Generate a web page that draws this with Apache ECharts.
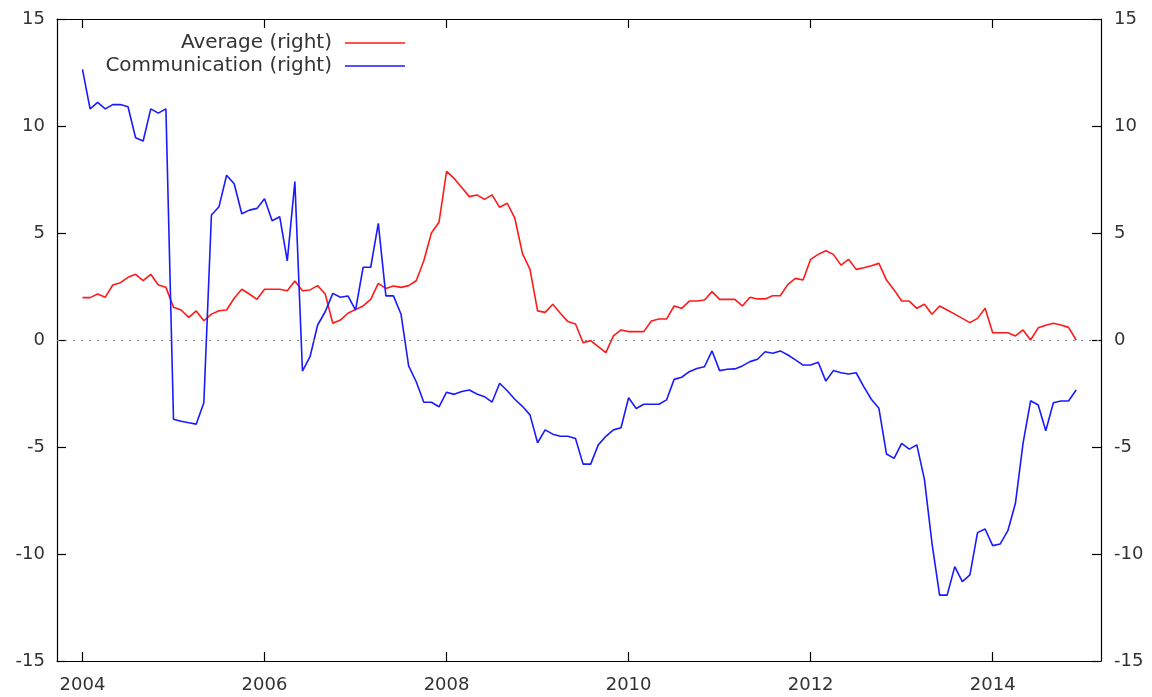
<!DOCTYPE html>
<html>
<head>
<meta charset="utf-8">
<title>Average vs Communication</title>
<script src="https://cdn.jsdelivr.net/npm/echarts@6/dist/echarts.min.js"></script>
<style>
  html, body { margin: 0; padding: 0; background: #fff; }
  #chart { width: 1152px; height: 697px; }
</style>
</head>
<body>
<div id="chart"></div>
<script>
// monthly observations, Jan 2004 .. Dec 2014
const startYear = 2004
const yearTicks = [2004, 2006, 2008, 2010, 2012, 2014]

const average = [
  1.98, 1.98, 2.15, 2.0, 2.57, 2.68, 2.93, 3.07, 2.77, 3.07, 2.57, 2.46,
  1.53, 1.4, 1.06, 1.36, 0.9, 1.21, 1.37, 1.4, 1.95, 2.37, 2.15, 1.9,
  2.37, 2.37, 2.37, 2.3, 2.76, 2.3, 2.34, 2.54, 2.15, 0.78, 0.93, 1.25,
  1.43, 1.59, 1.9, 2.65, 2.41, 2.52, 2.46, 2.54, 2.77, 3.7, 5.0, 5.5,
  7.88, 7.55, 7.13, 6.7, 6.78, 6.57, 6.78, 6.2, 6.39, 5.69, 4.05, 3.3,
  1.36, 1.29, 1.67, 1.25, 0.86, 0.75, -0.13, -0.03, -0.31, -0.59, 0.19, 0.47,
  0.39, 0.39, 0.39, 0.89, 0.98, 0.98, 1.59, 1.48, 1.82, 1.82, 1.87, 2.26,
  1.9, 1.9, 1.9, 1.59, 2.0, 1.92, 1.92, 2.07, 2.07, 2.6, 2.88, 2.8,
  3.77, 4.0, 4.17, 4.0, 3.5, 3.77, 3.3, 3.38, 3.47, 3.58, 2.8, 2.34,
  1.82, 1.82, 1.48, 1.67, 1.2, 1.59, 1.4, 1.21, 1.01, 0.81, 1.01, 1.48,
  0.34, 0.34, 0.34, 0.19, 0.47, 0.0, 0.57, 0.69, 0.78, 0.7, 0.59, 0.0
]

const communication = [
  12.65, 10.8, 11.1, 10.8, 11.0, 11.0, 10.9, 9.45, 9.3, 10.8, 10.6, 10.8,
  -3.7, -3.8, -3.87, -3.93, -2.93, 5.84, 6.23, 7.7, 7.3, 5.9, 6.07, 6.15,
  6.6, 5.57, 5.76, 3.7, 7.4, -1.45, -0.78, 0.7, 1.32, 2.18, 2.0, 2.06,
  1.4, 3.4, 3.4, 5.45, 2.06, 2.06, 1.2, -1.21, -1.95, -2.91, -2.91, -3.12,
  -2.44, -2.54, -2.41, -2.34, -2.52, -2.65, -2.9, -2.02, -2.37, -2.77, -3.1, -3.5,
  -4.8, -4.2, -4.4, -4.5, -4.5, -4.6, -5.8, -5.8, -4.9, -4.5, -4.2, -4.1,
  -2.7, -3.2, -3.0, -3.0, -3.0, -2.8, -1.84, -1.74, -1.48, -1.33, -1.25, -0.51,
  -1.43, -1.37, -1.35, -1.21, -1.01, -0.9, -0.55, -0.62, -0.51, -0.7, -0.93, -1.17,
  -1.17, -1.04, -1.92, -1.43, -1.53, -1.59, -1.53, -2.18, -2.77, -3.19, -5.33, -5.53,
  -4.83, -5.1, -4.9, -6.51, -9.5, -11.92, -11.92, -10.59, -11.29, -10.98, -9.0, -8.83,
  -9.61, -9.53, -8.91, -7.63, -4.83, -2.84, -3.04, -4.24, -2.93, -2.85, -2.85, -2.34
]

const toPoints = (values) => values.map((v, i) => [startYear + i / 12, v])

const font = 'DejaVu Sans'
const textColor = '#333'

const yAxisBase = {
  type: 'value',
  min: -15,
  max: 15,
  interval: 5,
  axisLine: { show: true, lineStyle: { color: '#000', width: 1.2 } },
  axisTick: { show: true, inside: true, length: 9, lineStyle: { color: '#000', width: 1.2 } },
  splitLine: { show: false },
  axisLabel: { fontFamily: font, fontSize: 18, color: textColor, margin: 12 }
}

const xAxisBase = {
  type: 'value',
  min: 2003.72,
  max: 2015.19,
  axisLine: { show: true, onZero: false, lineStyle: { color: '#000', width: 1.2 } },
  axisTick: { show: true, inside: true, length: 9, customValues: yearTicks, lineStyle: { color: '#000', width: 1.2 } },
  splitLine: { show: false }
}

const legendBase = {
  right: 742,
  align: 'right',
  icon: 'rect',
  itemWidth: 60,
  itemHeight: 1.6,
  textStyle: { fontFamily: font, fontSize: 20, lineHeight: 22, color: textColor, padding: [0, 8, 0, 0] }
}

const chart = echarts.init(document.getElementById('chart'))
chart.setOption({
  animation: false,
  backgroundColor: '#fff',
  grid: { left: 57, right: 51, top: 19, bottom: 36 },
  legend: [
    { ...legendBase, data: ['Average (right)'], top: 27 },
    { ...legendBase, data: ['Communication (right)'], top: 50 }
  ],
  xAxis: [
    {
      ...xAxisBase,
      position: 'bottom',
      axisLabel: {
        customValues: yearTicks,
        formatter: (v) => String(v),
        fontFamily: font,
        fontSize: 18,
        color: textColor,
        margin: 15
      }
    },
    {
      ...xAxisBase,
      position: 'top',
      axisLabel: { show: false }
    }
  ],
  yAxis: [
    { ...yAxisBase, position: 'left' },
    { ...yAxisBase, position: 'right', axisLabel: { ...yAxisBase.axisLabel, margin: 13 } }
  ],
  series: [
    {
      name: 'Average (right)',
      type: 'line',
      data: toPoints(average),
      showSymbol: false,
      symbol: 'none',
      color: '#ff1a1a',
      lineStyle: { width: 1.6, color: '#ff1a1a' },
      markLine: {
        silent: true,
        symbol: 'none',
        label: { show: false },
        lineStyle: { type: [2, 6], color: '#888', width: 1.2 },
        data: [{ yAxis: 0 }]
      }
    },
    {
      name: 'Communication (right)',
      type: 'line',
      data: toPoints(communication),
      showSymbol: false,
      symbol: 'none',
      color: '#1a1aff',
      lineStyle: { width: 1.6, color: '#1a1aff' }
    }
  ]
})
</script>
</body>
</html>
